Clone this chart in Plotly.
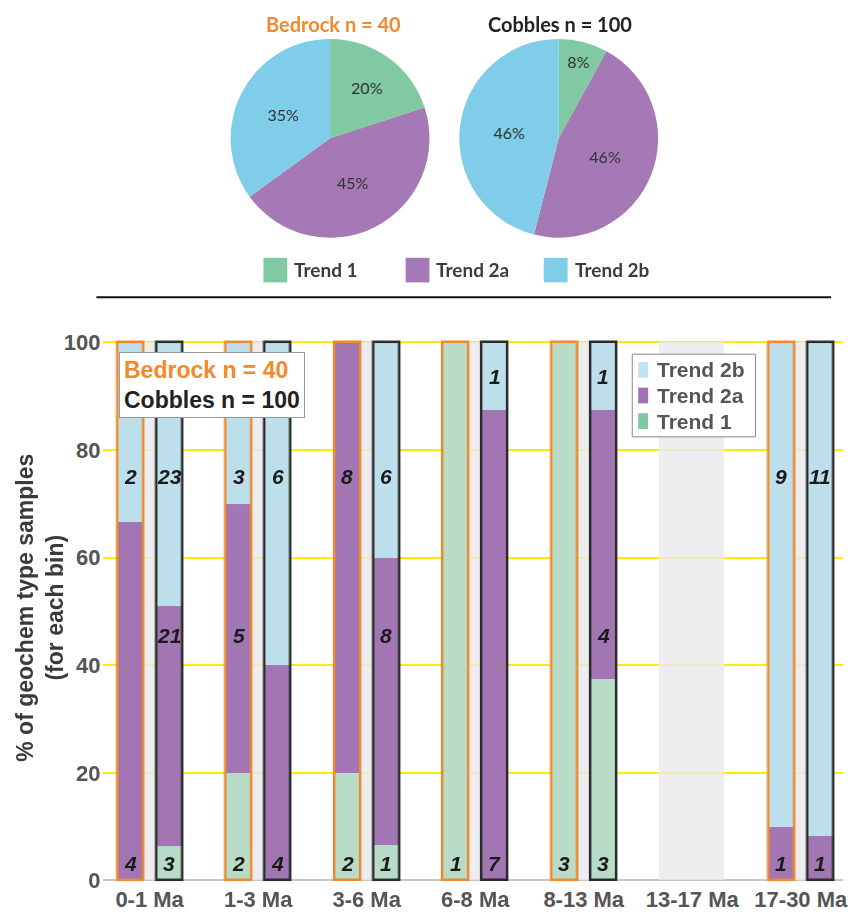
import plotly.graph_objects as go

# ---------------- data ----------------
bins = ["0-1 Ma", "1-3 Ma", "3-6 Ma", "6-8 Ma", "8-13 Ma", "13-17 Ma", "17-30 Ma"]

bedrock_t1 = [0, 2, 2, 1, 3, 0, 0]
bedrock_t2a = [4, 5, 8, 0, 0, 0, 1]
bedrock_t2b = [2, 3, 0, 0, 0, 0, 9]

cobble_t1 = [3, 0, 1, 0, 3, 0, 0]
cobble_t2a = [21, 4, 8, 7, 4, 0, 1]
cobble_t2b = [23, 6, 6, 1, 1, 0, 11]

trend_names = ["Trend 1", "Trend 2a", "Trend 2b"]
bedrock_pie = [20, 45, 35]
cobble_pie = [8, 46, 46]
bedrock_n = 40
cobble_n = 100

# ---------------- styling ----------------
W, H = 851, 917
PIE_COLORS = ["#80c9a2", "#a579b5", "#80cde9"]
BAR_COLORS = ["#b9dcc9", "#a176b3", "#bcdfeb"]
LEG_COLORS = ["#80c8a0", "#a070b4", "#c0e4f0"]
ORANGE = "#f08a2c"
DARK = "#2b2b2b"
BAND = "#eaeaec"
ARIAL = "Arial, Liberation Sans, sans-serif"
LATO = "Lato, Open Sans, sans-serif"

BAR_W = 0.238      # bar width in category units
PAIR_OFF = 0.179   # half distance between the two bars of a bin
BAND_W = 0.6


def px(x):
    return x / W


def py(y):
    return 1 - y / H


fig = go.Figure()

# ---------------- pies ----------------
for vals, dom in ((bedrock_pie, (232, 432)), (cobble_pie, (462, 662))):
    fig.add_trace(go.Pie(
        values=vals, labels=trend_names, sort=False, direction="clockwise",
        rotation=0, marker=dict(colors=PIE_COLORS, line=dict(width=0)),
        texttemplate="%{value}%", textposition="inside",
        insidetextorientation="horizontal",
        textfont=dict(family=LATO, size=16, color="#333333"),
        domain=dict(x=[px(dom[0]), px(dom[1])], y=[py(236), py(33)]),
        showlegend=False, hoverinfo="label+value",
    ))

annotations = [
    dict(x=px(335), y=py(18), xref="paper", yref="paper", showarrow=False,
         xanchor="center", yanchor="middle",
         text=f"<b>Bedrock n = {bedrock_n}</b>",
         font=dict(family=LATO, size=20, color=ORANGE)),
    dict(x=px(563), y=py(18), xref="paper", yref="paper", showarrow=False,
         xanchor="center", yanchor="middle",
         text=f"<b>Cobbles n = {cobble_n}</b>",
         font=dict(family=LATO, size=20, color="#222222")),
]
shapes = []

# pie legend (boxes + labels)
for name, col, x0 in zip(trend_names, PIE_COLORS, (265, 408, 547)):
    shapes.append(dict(type="rect", xref="paper", yref="paper",
                       x0=px(x0), x1=px(x0 + 24), y0=py(281), y1=py(256),
                       fillcolor=col, line=dict(width=0)))
    annotations.append(dict(x=px(x0 + 29), y=py(268), xref="paper", yref="paper",
                            xanchor="left", yanchor="middle", showarrow=False,
                            text=f"<b>{name}</b>",
                            font=dict(family=LATO, size=19, color="#3b3b3b")))

# separator rule
shapes.append(dict(type="line", xref="paper", yref="paper",
                   x0=px(97), x1=px(836), y0=py(296), y1=py(296),
                   line=dict(color="#111111", width=2)))

# ---------------- stacked bars ----------------
idx = list(range(len(bins)))

# grey band behind each bin (gridlines show faintly through it)
fig.add_trace(go.Bar(
    x=idx, y=[100] * len(bins), width=BAND_W, offset=-BAND_W / 2,
    marker=dict(color=BAND, line=dict(width=0)), opacity=0.82,
    showlegend=False, hoverinfo="skip", xaxis="x", yaxis="y",
))

groups = [
    ("Bedrock", [bedrock_t1, bedrock_t2a, bedrock_t2b], -PAIR_OFF, ORANGE),
    ("Cobbles", [cobble_t1, cobble_t2a, cobble_t2b], PAIR_OFF, DARK),
]

for gname, series, off, edge in groups:
    totals = [sum(s[i] for s in series) for i in idx]
    pct = [[(s[i] / totals[i] * 100 if totals[i] else 0) for i in idx] for s in series]
    base = [0.0] * len(bins)
    bases = []
    for k, name in enumerate(trend_names):
        bases.append(list(base))
        fig.add_trace(go.Bar(
            x=idx, y=[v if v > 0 else None for v in pct[k]], base=list(base),
            width=BAR_W, offset=off - BAR_W / 2,
            marker=dict(color=BAR_COLORS[k], line=dict(width=0)),
            name=f"{gname} – {name}", showlegend=False,
            customdata=series[k],
            hovertemplate="%{customdata} samples<extra></extra>",
        ))
        base = [b + p for b, p in zip(base, pct[k])]
    # outline around the full column
    fig.add_trace(go.Bar(
        x=idx, y=[100 if t else None for t in totals],
        width=BAR_W, offset=off - BAR_W / 2,
        marker=dict(color="rgba(0,0,0,0)", line=dict(color=edge, width=2.5)),
        showlegend=False, hoverinfo="skip", cliponaxis=False,
    ))
    # sample-count labels
    for i in idx:
        segs = [(k, bases[k][i], pct[k][i]) for k in range(3) if series[k][i] > 0]
        for j, (k, b0, h) in enumerate(segs):
            if j == 0:
                yl = 3.2
            elif j == len(segs) - 1:
                yl = 75 if h >= 20 else b0 + h / 2
            else:
                yl = 45.5
            annotations.append(dict(
                x=i + off, y=yl, xref="x", yref="y", showarrow=False,
                text=f"<b><i>{series[k][i]}</i></b>",
                font=dict(family=ARIAL, size=21, color="#1a1a1a"),
            ))

# trend key inside the bar panel
shapes.append(dict(type="rect", xref="paper", yref="paper",
                   x0=px(636), x1=px(760), y0=py(438), y1=py(354),
                   fillcolor="white", line=dict(color="#888888", width=1)))
for row, k in enumerate((2, 1, 0)):
    yc = 370 + row * 26
    shapes.append(dict(type="rect", xref="paper", yref="paper",
                       x0=px(642), x1=px(652), y0=py(yc + 8), y1=py(yc - 8),
                       fillcolor=LEG_COLORS[k], line=dict(width=0)))
    annotations.append(dict(x=px(659), y=py(yc), xref="paper", yref="paper",
                            xanchor="left", yanchor="middle", showarrow=False,
                            text=f"<b>{trend_names[k]}</b>",
                            font=dict(family=ARIAL, size=21, color="#555555")))

# sample-size box
annotations.append(dict(
    x=px(120), y=py(352), xref="paper", yref="paper", xanchor="left", yanchor="top",
    showarrow=False, align="left",
    text=(f"<b><span style='color:{ORANGE}'>Bedrock n = {bedrock_n}</span></b><br>"
          f"<b>Cobbles n = {cobble_n}</b>"),
    font=dict(family=ARIAL, size=23, color="#222222"),
    bgcolor="white", bordercolor="#999999", borderwidth=1, borderpad=4,
))

# y-axis title
annotations.append(dict(
    x=px(40), y=py(612), xref="paper", yref="paper", showarrow=False,
    xanchor="center", yanchor="middle", textangle=-90,
    text="<b>% of geochem type samples<br>(for each bin)</b>",
    font=dict(family=ARIAL, size=23, color="#3a3a3a"),
))

fig.update_layout(
    width=W, height=H, margin=dict(l=0, r=0, t=0, b=0),
    paper_bgcolor="white", plot_bgcolor="white",
    barmode="overlay", bargap=0, showlegend=False,
    xaxis=dict(domain=[px(104), px(848)], range=[-0.426, 6.389],
               tickmode="array", tickvals=idx, ticktext=[f"<b>{b}</b>" for b in bins],
               tickfont=dict(family=ARIAL, size=22, color="#555555"),
               ticklabeloverflow="allow",
               showgrid=False, zeroline=False, showline=False, ticks=""),
    yaxis=dict(domain=[py(892.3), py(335.5)], range=[-0.6, 101.2],
               tickvals=[0, 20, 40, 60, 80, 100],
               ticktext=[f"<b>{v}</b>" for v in (0, 20, 40, 60, 80, 100)],
               tickfont=dict(family=ARIAL, size=22, color="#555555"),
               ticklabelstandoff=2,
               showgrid=True, gridcolor="#ffec00", gridwidth=2,
               zeroline=True, zerolinecolor="#c8c8c8", zerolinewidth=2,
               showline=False, ticks=""),
    annotations=annotations, shapes=shapes,
)

fig.write_html("out.html")
